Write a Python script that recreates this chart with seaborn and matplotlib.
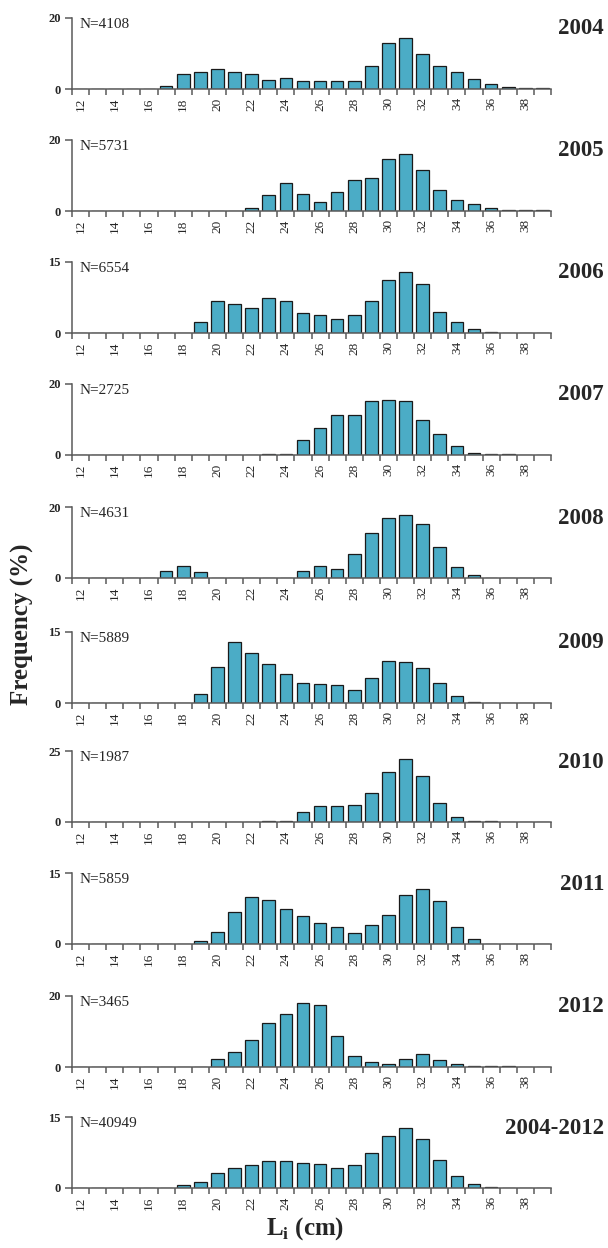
import numpy as np
import pandas as pd
import matplotlib
matplotlib.use("Agg")
import matplotlib.pyplot as plt
import seaborn as sns

# length classes (cm)
lengths = list(range(12, 40))

years = ["2004", "2005", "2006", "2007", "2008", "2009", "2010", "2011", "2012", "2004-2012"]
n_fish = [4108, 5731, 6554, 2725, 4631, 5889, 1987, 5859, 3465, 40949]
y_max = [20, 20, 15, 20, 20, 15, 25, 15, 20, 15]

# frequency (%) per length class, 12..39
f2004 = [0, 0, 0.1, 0.1, 0.1, 0.8, 4.1, 4.9, 5.7, 4.7, 4.1, 2.5, 3.1, 2.3, 2.3, 2.3, 2.3,
         6.5, 12.9, 14.4, 9.9, 6.5, 4.7, 2.8, 1.3, 0.6, 0.2, 0.2]
f2005 = [0, 0, 0, 0, 0, 0, 0, 0, 0, 0.1, 0.8, 4.6, 8.0, 4.8, 2.6, 5.4, 8.8,
         9.4, 14.6, 16.1, 11.5, 6.0, 3.2, 1.9, 0.85, 0.2, 0.2, 0.2]
f2006 = [0, 0, 0, 0, 0, 0, 0.1, 2.4, 6.75, 6.1, 5.3, 7.3, 6.75, 4.3, 3.8, 3.0, 3.8,
         6.75, 11.1, 12.9, 10.3, 4.5, 2.4, 0.9, 0.3, 0.1, 0.1, 0]
f2007 = [0, 0, 0, 0, 0, 0, 0, 0, 0, 0, 0, 0.2, 0.2, 4.3, 7.6, 11.2, 11.2,
         15.1, 15.4, 15.1, 9.8, 6.0, 2.5, 0.5, 0.2, 0.2, 0, 0]
f2008 = [0, 0, 0, 0, 0.1, 2.1, 3.5, 1.6, 0.1, 0.1, 0.1, 0.1, 0.1, 1.9, 3.5, 2.5, 6.8,
         12.8, 17.0, 17.8, 15.1, 8.7, 3.1, 0.8, 0.1, 0.1, 0, 0]
f2009 = [0.1, 0.1, 0.1, 0, 0, 0.1, 0.1, 1.8, 7.7, 12.8, 10.6, 8.3, 6.1, 4.2, 4.0, 3.7, 2.8,
         5.3, 8.9, 8.7, 7.5, 4.2, 1.5, 0.3, 0.1, 0.1, 0, 0]
f2010 = [0, 0, 0, 0, 0, 0, 0, 0, 0, 0, 0, 0.2, 0.4, 3.5, 5.6, 5.6, 5.9,
         10.3, 17.6, 22.1, 16.2, 6.8, 1.6, 0.2, 0.2, 0, 0, 0]
f2011 = [0, 0, 0, 0, 0, 0, 0.1, 0.6, 2.6, 6.7, 9.9, 9.3, 7.4, 5.9, 4.4, 3.5, 2.4,
         4.1, 6.1, 10.4, 11.7, 9.0, 3.5, 1.1, 0.1, 0, 0, 0]
f2012 = [0, 0, 0, 0, 0, 0, 0, 0.1, 2.2, 4.2, 7.5, 12.5, 14.9, 17.9, 17.4, 8.8, 3.0,
         1.4, 0.9, 2.2, 3.7, 1.9, 0.9, 0.2, 0.2, 0.2, 0, 0]
fall = [0.1, 0.1, 0.1, 0.1, 0.1, 0.1, 0.7, 1.3, 3.2, 4.3, 4.8, 5.6, 5.6, 5.2, 5.0, 4.3, 4.8,
        7.4, 10.9, 12.7, 10.3, 6.0, 2.5, 0.9, 0.3, 0.1, 0.1, 0.1]

freqs = [f2004, f2005, f2006, f2007, f2008, f2009, f2010, f2011, f2012, fall]

sns.set_style("ticks")
plt.rcParams['font.family'] = ['Liberation Serif', 'DejaVu Serif']
plt.rcParams['mathtext.fontset'] = 'custom'
plt.rcParams['mathtext.rm'] = 'Liberation Serif:bold'

fig = plt.figure(figsize=(6.08, 12.48), dpi=100)
H = 1248.0
W = 608.0
baselines = [89, 211, 333, 455, 578, 703, 822, 944, 1067, 1188]
bar_col = "#4bacc6"
spine_col = "#5a5a5a"

for i in range(len(years)):
    ax = fig.add_axes([72 / W, 1 - baselines[i] / H, 479 / W, 71 / H])
    df = pd.DataFrame({"L": [str(v) for v in lengths], "f": freqs[i]})
    sns.barplot(data=df, x="L", y="f", ax=ax, color=bar_col, saturation=1,
                edgecolor="#1a1a1a", linewidth=0.9, width=0.74)
    ax.set_xlim(-0.5, len(lengths) - 0.5)
    ax.set_ylim(0, y_max[i])
    ax.set_xlabel("")
    ax.set_ylabel("")
    sns.despine(ax=ax)
    for s in ["left", "bottom"]:
        ax.spines[s].set_color(spine_col)
        ax.spines[s].set_linewidth(1.1)

    # major ticks at class boundaries, labels on every other class
    ax.set_xticks(np.arange(-0.5, len(lengths), 1.0))
    ax.set_xticklabels([])
    ax.tick_params(axis="x", which="major", length=4, width=1.1, color=spine_col, direction="out")
    ax.set_xticks(np.arange(0, len(lengths), 2), minor=True)
    ax.set_xticklabels([str(v) for v in lengths[::2]], minor=True, rotation=90, fontsize=9.5)
    ax.tick_params(axis="x", which="minor", length=0, pad=6)

    ax.set_yticks([0, y_max[i]])
    ax.set_yticklabels(["0", str(y_max[i])], fontsize=9, fontweight="bold")
    ax.tick_params(axis="y", length=5, width=1.1, color=spine_col, pad=3)

    ax.text(8 / 479, 1.0, "N=%d" % n_fish[i], transform=ax.transAxes,
            fontsize=11, va="top", ha="left")
    fig.text(604 / W, 1 - (baselines[i] - 60) / H, years[i], fontsize=16.5,
             fontweight="bold", ha="right", va="center")

fig.text(22 / W, 1 - 624 / H, "Frequency (%)", rotation=90, fontsize=18,
         fontweight="bold", ha="center", va="center")
fig.text(305 / W, 1 - 1229 / H, r"L$_\mathregular{i}$ (cm)", fontsize=18,
         fontweight="bold", ha="center", va="center")

fig.savefig("out.png", dpi=100)
